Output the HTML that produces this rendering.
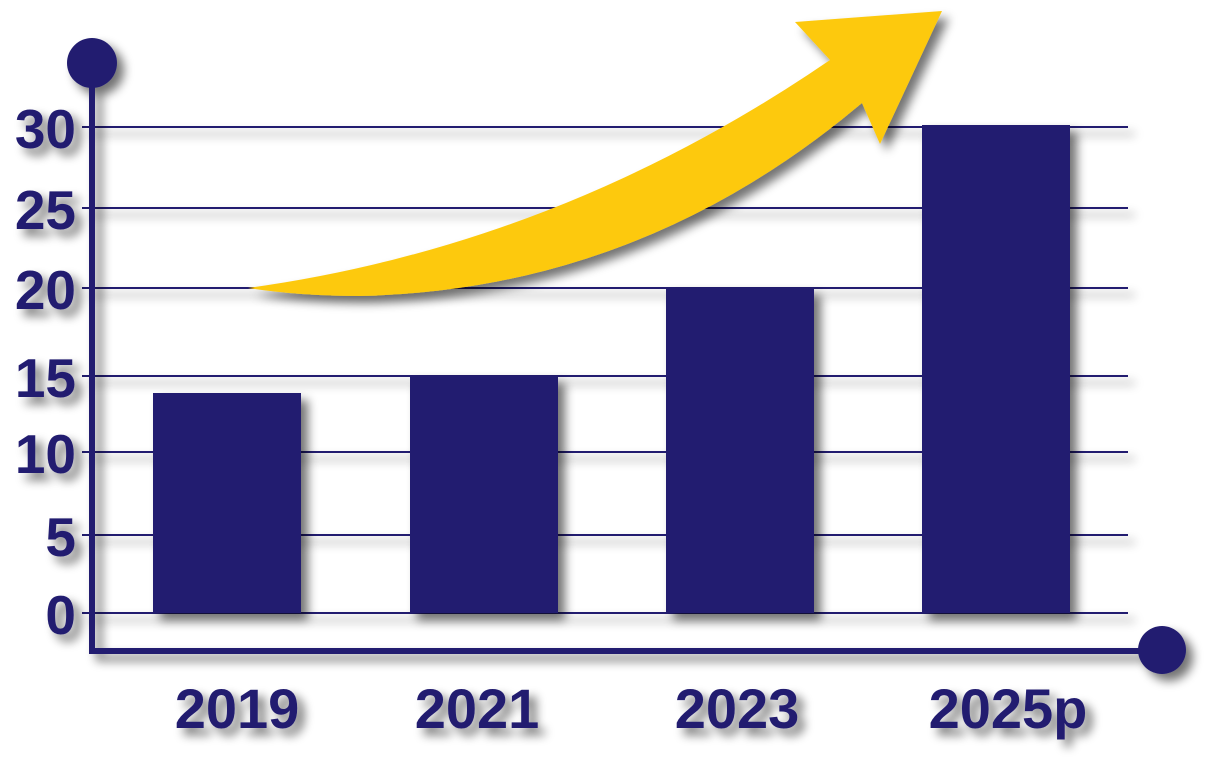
<!DOCTYPE html>
<html><head><meta charset="utf-8"><style>
html,body{margin:0;padding:0;background:#fff}
svg{display:block}
text{font-family:"Liberation Sans",sans-serif;font-weight:bold;fill:#231f70}
</style></head><body>
<svg width="1219" height="757" viewBox="0 0 1219 757">
<defs>
<filter id="sh" x="-20%" y="-20%" width="150%" height="150%">
<feGaussianBlur in="SourceAlpha" stdDeviation="5"/>
<feOffset dx="7" dy="7" result="b"/>
<feComponentTransfer><feFuncA type="linear" slope="0.55"/></feComponentTransfer>
<feMerge><feMergeNode/><feMergeNode in="SourceGraphic"/></feMerge>
</filter>
</defs>
<g stroke="#231f70" stroke-width="2" filter="url(#sh)">
<line x1="82" y1="127" x2="1128" y2="127"/>
<line x1="82" y1="208" x2="1128" y2="208"/>
<line x1="82" y1="288" x2="1128" y2="288"/>
<line x1="82" y1="376" x2="1128" y2="376"/>
<line x1="82" y1="452" x2="1128" y2="452"/>
<line x1="82" y1="535" x2="1128" y2="535"/>
<line x1="82" y1="613" x2="1128" y2="613"/>
</g>
<g fill="#231f70" filter="url(#sh)">
<rect x="153" y="393" width="148" height="220"/>
<rect x="410" y="376" width="148" height="237"/>
<rect x="666" y="288" width="148" height="325"/>
<rect x="922" y="125" width="148" height="488"/>
</g>
<g filter="url(#sh)">
<path d="M92,63 V651 H1162" fill="none" stroke="#231f70" stroke-width="6"/>
<circle cx="92" cy="63" r="25" fill="#231f70"/>
<circle cx="1162" cy="650" r="24" fill="#231f70"/>
</g>
<path filter="url(#sh)" fill="#fdc90c" d="M248,288 Q560,245 830,60 L795,22 L942,11 L880,144 L862,103 Q640,290 360,296 Q300,296 248,288 Z"/>
<g font-size="55" text-anchor="end" filter="url(#sh)">
<text x="76" y="148">30</text>
<text x="76" y="229">25</text>
<text x="76" y="309">20</text>
<text x="76" y="397">15</text>
<text x="76" y="473">10</text>
<text x="76" y="556">5</text>
<text x="76" y="634">0</text>
</g>
<g font-size="56" text-anchor="middle" filter="url(#sh)">
<text x="237" y="728">2019</text>
<text x="477" y="728">2021</text>
<text x="737" y="728">2023</text>
<text x="1008" y="728">2025p</text>
</g>
</svg>
</body></html>
